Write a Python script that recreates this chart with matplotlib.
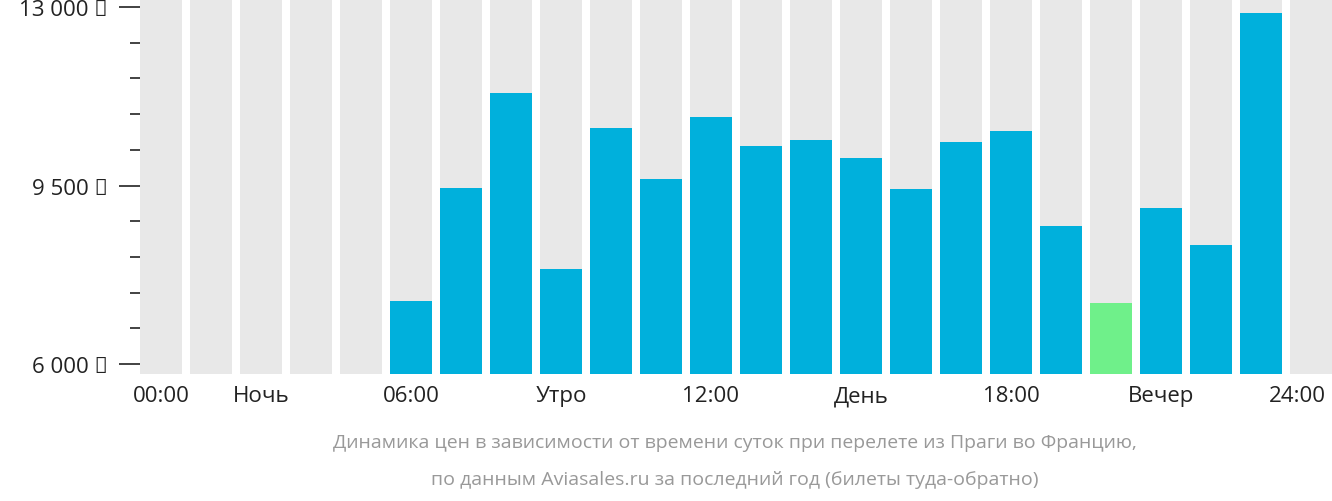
import matplotlib
matplotlib.use("Agg")
import matplotlib.pyplot as plt
import numpy as np

slots = list(range(24))
prices = [None]*5 + [7235, 9450, 11312, 7862, 10626, 9626, 10841, 10273, 10390, 10038,
                     9430, 10351, 10567, 8705, 7196, 9058, 8332, 12880] + [None]
cheapest = 19
xlabels = ["00:00", "Ночь", "06:00", "Утро", "12:00", "День", "18:00", "Вечер", "24:00"]
xlabel_pos = [0, 2, 5, 8, 11, 14, 17, 20, 22.72]
yticks = [6000, 9500, 13000]

fig = plt.figure(figsize=(13.32, 5.02), dpi=100)
ax = fig.add_axes([140/1332, (502-375)/502, 1192/1332, 375/502])
ymin, ymax = 5804, 13157
ax.bar(slots, [ymax-ymin]*24, bottom=ymin, width=0.84, color="#e8e8e8")
for i, v in zip(slots, prices):
    if v is None: continue
    ax.bar(i, v-ymin, bottom=ymin, width=0.84, color="#6ff08a" if i == cheapest else "#00b0dc")
ax.set_xlim(-0.42, 23.42)
ax.set_ylim(ymin, ymax)
for s in ax.spines.values(): s.set_visible(False)
ax.set_yticks(yticks)
ax.set_yticklabels([f"{t:,}".replace(",", " ") + " ₽" for t in yticks], fontsize=16, fontfamily="Open Sans", color="#222")
ax.set_yticks(np.arange(6000, 13001, 700), minor=True)
ax.tick_params(axis="y", which="major", length=15, width=1.2, pad=8, color="#222")
ax.tick_params(axis="y", which="minor", length=7, width=1.2, color="#222")
ax.set_xticks(xlabel_pos)
ax.set_xticklabels(xlabels, fontsize=16, fontfamily="Open Sans", color="#222")
ax.tick_params(axis="x", length=0, pad=8)
fig.text(735/1332, 1-443/502, "Динамика цен в зависимости от времени суток при перелете из Праги во Францию,",
         ha="center", va="center", fontsize=14, color="#999", fontfamily="Open Sans")
fig.text(735/1332, 1-480/502, "по данным Aviasales.ru за последний год (билеты туда-обратно)",
         ha="center", va="center", fontsize=14, color="#999", fontfamily="Open Sans")
fig.savefig("out.png", dpi=100)
